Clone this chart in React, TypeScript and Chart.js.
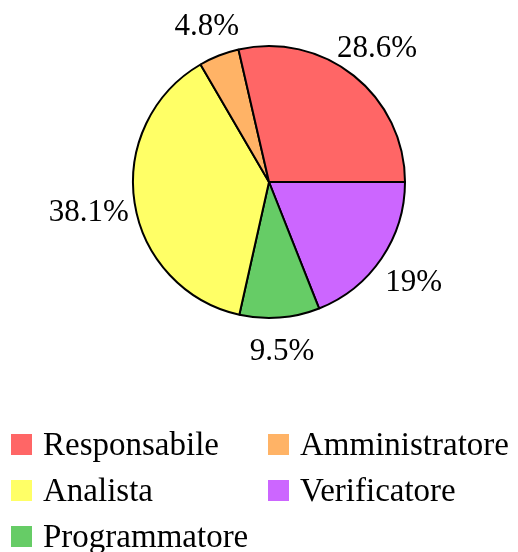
import React, { useEffect, useRef } from "react";
import { Chart, registerables } from "chart.js";

Chart.register(...registerables);

// Data (counter-clockwise from 3 o'clock, as in the reference)
const categories = ["Responsabile", "Amministratore", "Analista", "Programmatore", "Verificatore"];
const percentages = [28.6, 4.8, 38.1, 9.5, 19];
const colors = ["#ff6666", "#ffb366", "#ffff66", "#66cc66", "#cc66ff"];
const legendOrder = ["Responsabile", "Amministratore", "Analista", "Verificatore", "Programmatore"];

const FONT = '"Liberation Serif", "DejaVu Serif", serif';

const labelPlugin = {
  id: "outerLabels",
  afterDatasetsDraw(chart: any) {
    const ctx = chart.ctx;
    const meta = chart.getDatasetMeta(0);
    const vals = chart.data.datasets[0].data as number[];
    ctx.save();
    const size = 31;
    ctx.font = `${size}px ${FONT}`;
    ctx.fillStyle = "#000";
    ctx.textAlign = "center";
    ctx.textBaseline = "alphabetic";
    meta.data.forEach((arc: any, i: number) => {
      const p = arc.getProps(["x", "y", "startAngle", "endAngle", "outerRadius"], true);
      const mid = (p.startAngle + p.endAngle) / 2;
      const c = Math.cos(mid);
      const s = Math.sin(mid);
      const text = `${vals[i]}%`;
      const w = ctx.measureText(text).width;
      const d = p.outerRadius + 31.5 + 0.19 * c * c * w;
      const x = p.x + d * c;
      const y = p.y + d * s;
      ctx.fillText(text, x, y + size * 0.34);
    });
    ctx.restore();
  },
  afterDraw(chart: any) {
    const ctx = chart.ctx;
    const labels = chart.data.labels as string[];
    const ds = chart.data.datasets[0];
    ctx.save();
    ctx.font = `33px ${FONT}`;
    ctx.textAlign = "left";
    ctx.textBaseline = "alphabetic";
    legendOrder.forEach((name, k) => {
      const idx = labels.indexOf(name);
      const col = k % 2;
      const row = Math.floor(k / 2);
      const sx = col === 0 ? 11 : 268;
      const sy = 434 + row * 46;
      ctx.fillStyle = (ds.backgroundColor as string[])[idx];
      ctx.fillRect(sx, sy, 21, 21);
      ctx.fillStyle = "#000";
      ctx.fillText(name, sx + 32, sy + 21);
    });
    ctx.restore();
  },
};

export default function App() {
  const ref = useRef<HTMLCanvasElement>(null);
  useEffect(() => {
    const rev = (a: any[]) => a.slice().reverse();
    const chart = new Chart(ref.current as HTMLCanvasElement, {
      type: "pie",
      data: {
        labels: rev(categories),
        datasets: [
          {
            data: rev(percentages),
            backgroundColor: rev(colors),
            borderColor: "#000",
            borderWidth: 2,
          },
        ],
      },
      options: {
        responsive: false,
        animation: false,
        rotation: 90,
        layout: { padding: { left: 132, right: 112, top: 45, bottom: 233 } },
        plugins: { legend: { display: false }, tooltip: { enabled: false } },
      },
      plugins: [labelPlugin],
    });
    return () => chart.destroy();
  }, []);
  return (
    <div style={{ position: "absolute", left: 0, top: 0, width: 518, height: 552, background: "#fff" }}>
      <canvas ref={ref} width={518} height={552} />
    </div>
  );
}
